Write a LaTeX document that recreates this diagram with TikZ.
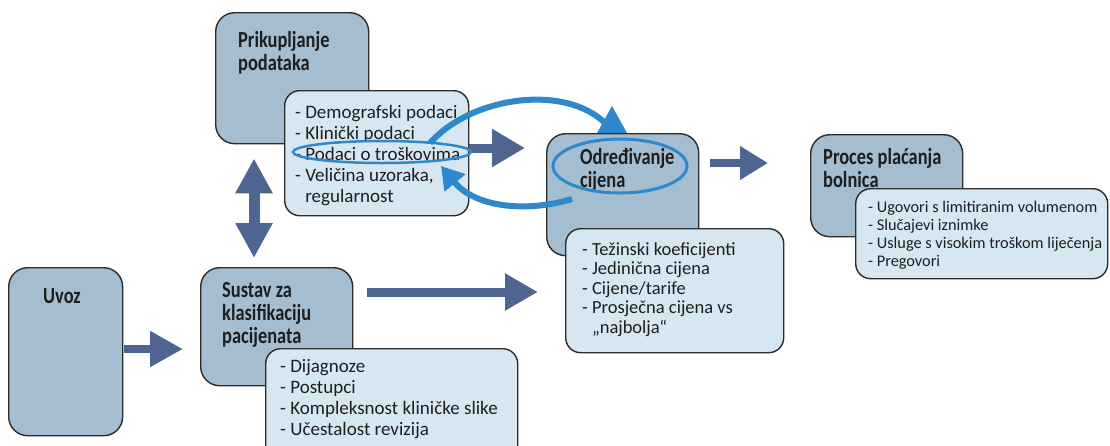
\documentclass[tikz,border=0pt]{standalone}
\usepackage{fontspec}
\setmainfont{Carlito}
\newfontfamily\headfont[FakeStretch=0.8]{Carlito}
\usetikzlibrary{arrows.meta,shapes.geometric}
\definecolor{darkbox}{HTML}{A4BDD0}
\definecolor{lightbox}{HTML}{D6E7F2}
\definecolor{arrowc}{HTML}{4F6591}
\definecolor{bluec}{HTML}{2E88C9}
\definecolor{edgec}{HTML}{2B2B2B}
\definecolor{textc}{HTML}{1E1E1E}
\begin{document}
\begin{tikzpicture}[x=1pt,y=-1pt,
  dbox/.style={draw=edgec, line width=1.4pt, fill=darkbox, rounded corners=19pt, anchor=north west, inner sep=0pt},
  lbox/.style={draw=edgec, line width=1.4pt, fill=lightbox, rounded corners=15pt, anchor=north west, inner sep=0pt},
  headtxt/.style={font=\headfont\bfseries\fontsize{23}{23}\selectfont, text=textc, align=left, anchor=base west, inner sep=0pt},
  bodytxt/.style={font=\fontsize{19}{21}\selectfont, text=textc, align=left, anchor=base west, inner sep=0pt},
  bodytxtb/.style={font=\fontsize{18.5}{19.5}\selectfont, text=textc, align=left, anchor=base west, inner sep=0pt},
  smalltxt/.style={font=\fontsize{16.3}{17.7}\selectfont, text=textc, align=left, anchor=base west, inner sep=0pt},
  blk/.style={draw=arrowc, line width=9pt, -{Triangle[width=35pt,length=33pt]}, color=arrowc},
  bluel/.style={draw=bluec, line width=6pt},
  ell/.style={ellipse, draw=bluec, inner sep=0pt}
]
\useasboundingbox (0,0) rectangle (1110,445);

% dark boxes
\node[dbox, minimum width=153pt, minimum height=131pt] (prik) at (215,12) {};
\node[dbox, minimum width=152pt, minimum height=122pt] (odr) at (546,133) {};
\node[dbox, minimum width=152pt, minimum height=102pt] (proc) at (810,134) {};
\node[dbox, minimum width=114pt, minimum height=168pt] (uvoz) at (8,267) {};
\node[dbox, minimum width=152pt, minimum height=118pt] (sust) at (200,267) {};

% light boxes
\node[lbox, minimum width=184pt, minimum height=125pt] (l1) at (284,90) {};
\node[lbox, minimum width=218pt, minimum height=124pt] (l2) at (565,228) {};
\node[lbox, minimum width=252pt, minimum height=115pt] (l3) at (265,348) {};
\node[lbox, minimum width=252pt, minimum height=90pt] (l4) at (855,188) {};

% headings (anchor = baseline of last line)
\node[headtxt] (tprik) at (238,70) {Prikupljanje\\podataka};
\node[headtxt] (todr) at (580,187) {Određivanje\\cijena};
\node[headtxt] (tproc) at (823,187) {Proces plaćanja\\bolnica};
\node[headtxt] (tuvoz) at (43,303) {Uvoz};
\node[headtxt] (tsust) at (222,343) {Sustav za\\klasifikaciju\\pacijenata};

% lists (anchor = baseline of last line)
\node[bodytxt] (t1) at (295,202) {- Demografski podaci\\- Klinički podaci\\- Podaci o troškovima\\- Veličina uzoraka,\\\phantom{- }regularnost};
\node[bodytxtb] (t2) at (582,333) {- Težinski koeficijenti\\- Jedinična cijena\\- Cijene/tarife\\- Prosječna cijena vs\\\phantom{- }„najbolja“};
\node[bodytxt] (t3) at (280,435) {- Dijagnoze\\- Postupci\\- Kompleksnost kliničke slike\\- Učestalost revizija};
\node[smalltxt] (t4) at (868,266) {- Ugovori s limitiranim volumenom\\- Slučajevi iznimke\\- Usluge s visokim troškom liječenja\\- Pregovori};

% block arrows
\draw[blk, line width=8pt, -{Triangle[width=34pt,length=33pt]}] ([xshift=1pt]uvoz.east |- 0,349) -- ([xshift=-17pt]sust.west |- 0,349);
\draw[blk] ([xshift=14pt]sust.east |- 0,292) -- ([xshift=-8pt]odr.west |- 0,292);
\draw[blk, -{Triangle[width=36pt,length=33pt]}] (l1.east |- 0,148) -- ([xshift=-21pt]odr.west |- 0,148);
\draw[blk, line width=8pt, -{Triangle[width=32pt,length=28pt]}] ([xshift=11pt]odr.east |- 0,163) -- ([xshift=-42pt]proc.west |- 0,163);
\coordinate (dtop) at ([yshift=-14pt]prik.south -| 254,0);
\coordinate (dbot) at ([yshift=9pt]sust.north -| 254,0);
\draw[blk, line width=11pt, {Triangle[width=35pt,length=35pt]}-{Triangle[width=35pt,length=35pt]}] (dtop) -- (dbot);

% blue ellipses
\node[ell, line width=2.5pt, minimum width=178pt, minimum height=22pt] (e1) at (382,152) {};
\node[ell, line width=3pt, minimum width=134pt, minimum height=54pt] (e2) at (620,166) {};

% blue curved arrows
\coordinate (u1) at (430,143);
\coordinate (u2) at (605,123);
\draw[bluel] (u1) .. controls (472,96) and (565,84) .. (u2);
\fill[bluec] (612,106) -- (597,133) -- (627,133) -- cycle;
\coordinate (w1) at (572,199);
\coordinate (w2) at (441,166);
\draw[bluel, -{Triangle[width=26pt,length=22pt]}] (w1) .. controls (525,213) and (475,207) .. (w2);
\end{tikzpicture}
\end{document}
